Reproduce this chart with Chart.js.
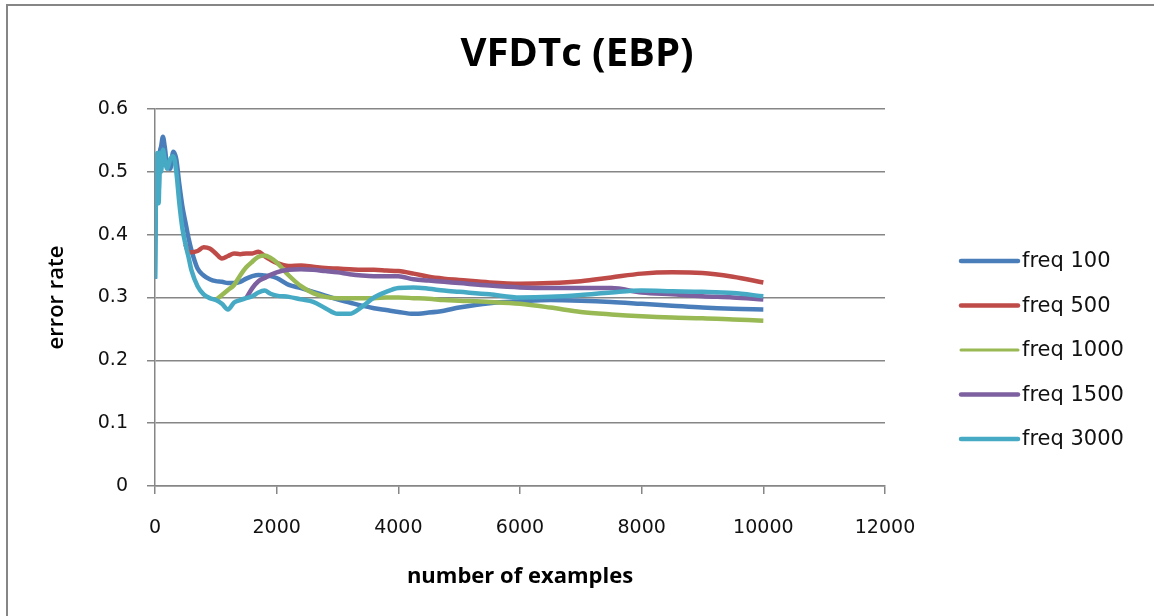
<!DOCTYPE html>
<html>
<head>
<meta charset="utf-8">
<script src="https://cdn.jsdelivr.net/npm/chart.js@4/dist/chart.umd.min.js"></script>
<style>
  html, body { margin: 0; padding: 0; background: #ffffff; }
  canvas { display: block; }
</style>
</head>
<body>
<canvas id="chart" width="1154" height="616"></canvas>
<script>
// number of training examples seen
const examples = [0, 20, 40, 60, 80, 100, 130, 160, 200, 250, 300, 350, 400, 450, 500, 550,
  600, 700, 800, 900, 1000, 1100, 1200, 1300, 1400, 1500, 1600, 1700, 1800, 1900, 2000,
  2200, 2400, 2600, 2800, 3000, 3200, 3400, 3600, 3800, 4000, 4250, 4500, 4750, 5000,
  5500, 6000, 6500, 7000, 7500, 8000, 8500, 9000, 9500, 10000];

// error rate per update frequency (null = identical to the freq 3000 curve before its first update)
const freq100 = [0.33, 0.50, 0.52, 0.47, 0.53, 0.54, 0.556, 0.54, 0.51, 0.505, 0.532,
  0.52, 0.48, 0.445, 0.42, 0.395, 0.375, 0.346, 0.335, 0.329, 0.326,
  0.325, 0.323, 0.323, 0.325, 0.33, 0.334, 0.336, 0.335, 0.334, 0.331,
  0.32, 0.315, 0.309, 0.303, 0.297, 0.292, 0.287, 0.283, 0.28, 0.277,
  0.274, 0.276, 0.279, 0.284,
  0.291, 0.294, 0.296, 0.295, 0.293, 0.29, 0.287, 0.284, 0.282, 0.281];

const freq500 = [null, null, null, null, null, null, null, null, null, null, null, null, null, null,
  0.385, 0.372, 0.372, 0.374, 0.38, 0.378, 0.37,
  0.362, 0.366, 0.37, 0.369, 0.37, 0.37, 0.373, 0.366, 0.36, 0.355,
  0.35, 0.351, 0.349, 0.347, 0.346, 0.345, 0.344, 0.344, 0.343, 0.342,
  0.338, 0.333, 0.33, 0.328,
  0.324, 0.322, 0.323, 0.326, 0.332, 0.338, 0.34, 0.339, 0.333, 0.324];

const freq1000 = [null, null, null, null, null, null, null, null, null, null,
  null, null, null, null, null, null, null, null, null, null,
  0.296, 0.304, 0.312, 0.32, 0.335, 0.348, 0.357, 0.365, 0.367, 0.363, 0.356,
  0.335, 0.318, 0.307, 0.301, 0.299, 0.299, 0.299, 0.299, 0.30, 0.30,
  0.299, 0.298, 0.296, 0.295,
  0.293, 0.29, 0.284, 0.277, 0.273, 0.27, 0.268, 0.267, 0.265, 0.263];

const freq1500 = [null, null, null, null, null, null, null, null, null, null,
  null, null, null, null, null, null, null, null, null, null,
  null, null, null, null, null,
  0.299, 0.315, 0.326, 0.331, 0.336, 0.34,
  0.344, 0.345, 0.344, 0.342, 0.34, 0.337, 0.335, 0.334, 0.334, 0.334,
  0.329, 0.327, 0.325, 0.323,
  0.319, 0.316, 0.315, 0.315, 0.315, 0.308, 0.305, 0.302, 0.30, 0.297];

const freq3000 = [0.33, 0.50, 0.53, 0.45, 0.53, 0.50, 0.535, 0.52, 0.505, 0.52, 0.525,
  0.50, 0.45, 0.41, 0.385, 0.365, 0.343, 0.318, 0.305, 0.299, 0.296,
  0.29, 0.281, 0.292, 0.296, 0.299, 0.302, 0.308, 0.311, 0.306, 0.303,
  0.301, 0.297, 0.293, 0.283, 0.274, 0.274, 0.285, 0.30, 0.309, 0.315,
  0.316, 0.314, 0.311, 0.309,
  0.305, 0.30, 0.301, 0.304, 0.308, 0.311, 0.31, 0.309, 0.307, 0.302];

const seriesNames = ['freq 100', 'freq 500', 'freq 1000', 'freq 1500', 'freq 3000'];
const seriesValues = [freq100, freq500, freq1000, freq1500, freq3000];
const seriesColors = ['#4a7ebb', '#be4b48', '#98b954', '#7d60a0', '#46aac5'];

const xTicks = [0, 2000, 4000, 6000, 8000, 10000, 12000];
const yTicks = [0, 0.1, 0.2, 0.3, 0.4, 0.5, 0.6];

const AXIS_GREY = '#868686';

const toPoints = vals => examples.map((x, i) => ({ x: x, y: vals[i] }));

// white background and the outer frame of the chart object
const framePlugin = {
  id: 'frame',
  beforeDraw(chart) {
    const ctx = chart.ctx;
    ctx.save();
    ctx.fillStyle = '#ffffff';
    ctx.fillRect(0, 0, chart.width, chart.height);
    ctx.strokeStyle = AXIS_GREY;
    ctx.lineWidth = 2;
    ctx.beginPath();
    ctx.moveTo(7, chart.height);
    ctx.lineTo(7, 5);
    ctx.lineTo(chart.width, 5);
    ctx.stroke();
    ctx.restore();
  }
};

// legend to the right of the plot, one line sample per series
const sideLegend = {
  id: 'sideLegend',
  afterDraw(chart) {
    const ctx = chart.ctx;
    const area = chart.chartArea;
    const x0 = area.right + 76;
    const x1 = x0 + 57;
    const top = 261;
    const step = 44.5;
    ctx.save();
    ctx.font = '21px "DejaVu Sans"';
    ctx.textBaseline = 'middle';
    ctx.textAlign = 'left';
    chart.data.datasets.forEach((ds, i) => {
      const y = top + i * step;
      ctx.strokeStyle = ds.borderColor;
      ctx.lineWidth = i === 2 ? 3 : 4.5;
      ctx.lineCap = 'round';
      ctx.beginPath();
      ctx.moveTo(x0, y);
      ctx.lineTo(x1, y);
      ctx.stroke();
      ctx.fillStyle = '#111111';
      ctx.fillText(ds.label, x1 + 4, y + 1);
    });
    ctx.restore();
  }
};

new Chart(document.getElementById('chart'), {
  type: 'line',
  data: {
    datasets: seriesNames.map((name, i) => ({
      label: name,
      data: toPoints(seriesValues[i]),
      borderColor: seriesColors[i],
      backgroundColor: seriesColors[i],
      borderWidth: 4.5,
      pointRadius: 0,
      cubicInterpolationMode: 'monotone',
      spanGaps: false,
      order: seriesNames.length - 1 - i
    }))
  },
  options: {
    responsive: false,
    animation: false,
    devicePixelRatio: 1,
    layout: { padding: 0 },
    plugins: {
      legend: { display: false },
      tooltip: { enabled: false },
      title: {
        display: true,
        text: 'VFDTc (EBP)',
        color: '#000000',
        font: { family: 'Open Sans', size: 40, weight: 'bold', lineHeight: 1.2 },
        padding: { top: 31, bottom: 30 }
      }
    },
    scales: {
      x: {
        type: 'linear',
        min: 0,
        max: 12000,
        afterBuildTicks: s => { s.ticks = xTicks.map(v => ({ value: v })); },
        afterFit: s => { s.height = 130; },
        grid: { drawOnChartArea: false, drawTicks: true, tickLength: 8, color: AXIS_GREY, lineWidth: 1.5 },
        border: { display: true, color: AXIS_GREY, width: 1.5 },
        ticks: {
          color: '#111111',
          font: { family: 'DejaVu Sans', size: 19 },
          padding: 23,
          maxRotation: 0,
          autoSkip: false,
          callback: v => String(v)
        },
        title: {
          display: true,
          text: 'number of examples',
          color: '#000000',
          font: { family: 'Open Sans', size: 22, weight: 'bold', lineHeight: 1.2 },
          padding: { top: 0, bottom: 26 }
        }
      },
      y: {
        type: 'linear',
        min: 0,
        max: 0.6,
        afterBuildTicks: s => { s.ticks = yTicks.map(v => ({ value: v })); },
        afterFit: s => { s.width = 155; },
        grid: { drawOnChartArea: true, drawTicks: true, tickLength: 8, color: AXIS_GREY, lineWidth: 1.5 },
        border: { display: true, color: AXIS_GREY, width: 1.5 },
        ticks: {
          color: '#111111',
          font: { family: 'DejaVu Sans', size: 19 },
          padding: 19,
          callback: v => String(Math.round(v * 10) / 10)
        },
        title: {
          display: true,
          text: 'error rate',
          color: '#000000',
          font: { family: 'Open Sans', size: 22, weight: '600', lineHeight: 1.2 },
          padding: { top: 44, bottom: 0 }
        }
      },
      // empty right-hand band that holds the series legend
      legendBand: {
        type: 'linear',
        position: 'right',
        min: 0,
        max: 1,
        afterFit: s => { s.width = 269; },
        grid: { display: false, drawTicks: false },
        border: { display: false },
        ticks: { display: false }
      }
    }
  },
  plugins: [framePlugin, sideLegend]
});
</script>
</body>
</html>
